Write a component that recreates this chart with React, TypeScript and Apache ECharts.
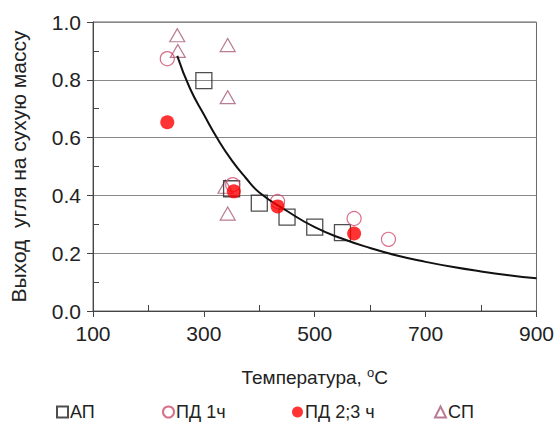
import React, { useEffect, useRef } from "react";
import * as echarts from "echarts";

const apX = [300, 350, 400, 450, 500, 550];
const apY = [0.797, 0.423, 0.373, 0.325, 0.29, 0.271];

const pd1X = [234, 352, 433, 571, 633];
const pd1Y = [0.873, 0.437, 0.379, 0.32, 0.248];

const pd23X = [234, 354, 433, 571];
const pd23Y = [0.653, 0.414, 0.362, 0.268];

const spX = [252, 253, 343, 343, 339, 343];
const spY = [0.954, 0.9, 0.92, 0.74, 0.43, 0.337];

const curveX = [252, 275, 300, 325, 350, 375, 400, 450, 500, 550, 600, 650, 700, 750, 800, 850, 900];
const curveY = [0.883, 0.77, 0.68, 0.595, 0.522, 0.462, 0.41, 0.346, 0.29, 0.25, 0.218, 0.191, 0.17, 0.152, 0.137, 0.124, 0.113];

const xTicks = [100, 300, 500, 700, 900];
const xMinor = [200, 400, 600, 800];
const yMinor = [0.1, 0.3, 0.5, 0.7, 0.9];

const legendNames = ["АП", "ПД 1ч", "ПД 2;3 ч", "СП"];
const legendLefts = [51, 157, 287, 429];

const FONT = "Liberation Sans";

const zip = (xs: number[], ys: number[]) => xs.map((x, i) => [x, ys[i]]);

export default function App() {
  const ref = useRef<HTMLDivElement>(null);
  useEffect(() => {
    if (!ref.current) return;
    const chart = echarts.init(ref.current, null, { renderer: "svg" });
    chart.setOption({
      animation: false,
      backgroundColor: "#fff",
      textStyle: { fontFamily: FONT },
      grid: {
        left: 93,
        right: 20,
        top: 22,
        bottom: 123,
        show: true,
        borderColor: "#666",
        borderWidth: 1,
      },
      legend: legendNames.map((n, i) => ({
        data: [n],
        bottom: 8,
        left: legendLefts[i],
        itemWidth: 11,
        itemHeight: 11,
        textStyle: { fontFamily: FONT, fontSize: 18, color: "#222", padding: [0, 0, 0, -3] },
      })),
      xAxis: [
        {
          type: "value",
          min: 100,
          max: 900,
          interval: 200,
          axisLine: { show: true, lineStyle: { color: "#444", width: 1 } },
          axisTick: { show: true, inside: false, length: 6, lineStyle: { color: "#444" }, customValues: xTicks },
          axisLabel: { fontFamily: FONT, fontSize: 21, color: "#222", margin: 12, customValues: xTicks },
          splitLine: { show: false },
          name: "Температура, {sup|o}C",
          nameLocation: "middle",
          nameGap: 55,
          nameTextStyle: {
            fontFamily: FONT,
            fontSize: 19,
            color: "#222",
            rich: { sup: { fontSize: 13, verticalAlign: "top", padding: [0, 0, 10, 0], fontFamily: FONT, color: "#222" } },
          },
        },
        {
          type: "value",
          min: 100,
          max: 900,
          position: "bottom",
          axisLine: { show: false },
          axisTick: { show: true, inside: true, length: 6, lineStyle: { color: "#444" }, customValues: xMinor },
          axisLabel: { show: false },
          splitLine: { show: false },
        },
      ],
      yAxis: [
        {
          type: "value",
          min: 0,
          max: 1,
          interval: 0.2,
          axisLine: { show: true, lineStyle: { color: "#444", width: 1 } },
          axisTick: { show: true, inside: false, length: 6, lineStyle: { color: "#444" } },
          axisLabel: {
            fontFamily: FONT,
            fontSize: 21,
            color: "#222",
            margin: 12,
            formatter: (v: number) => v.toFixed(1),
          },
          splitLine: { show: true, lineStyle: { color: "#888", width: 1 } },
          name: "Выход  угля на сухую массу",
          nameLocation: "middle",
          nameGap: 64,
          nameTextStyle: { fontFamily: FONT, fontSize: 21, color: "#222" },
        },
        {
          type: "value",
          min: 0,
          max: 1,
          position: "left",
          axisLine: { show: false },
          axisTick: { show: true, inside: true, length: 6, lineStyle: { color: "#444" }, customValues: yMinor },
          axisLabel: { show: false },
          splitLine: { show: false },
        },
      ],
      series: [
        {
          name: "trend",
          type: "line",
          data: zip(curveX, curveY),
          smooth: true,
          showSymbol: false,
          symbol: "none",
          lineStyle: { color: "#111", width: 2 },
          z: 3,
        },
        {
          name: "СП",
          type: "scatter",
          data: zip(spX, spY),
          symbol: "triangle",
          symbolSize: [15, 13],
          itemStyle: { color: "rgba(255,255,255,0)", borderColor: "#a85a7a", borderWidth: 1.2 },
          z: 2,
        },
        {
          name: "АП",
          type: "scatter",
          data: zip(apX, apY),
          symbol: "rect",
          symbolSize: 16,
          itemStyle: { color: "rgba(255,255,255,0)", borderColor: "#222", borderWidth: 1.3 },
          z: 2,
        },
        {
          name: "ПД 1ч",
          type: "scatter",
          data: zip(pd1X, pd1Y),
          symbol: "circle",
          symbolSize: 14,
          itemStyle: { color: "rgba(255,255,255,0)", borderColor: "#d04a6c", borderWidth: 1.2 },
          z: 2,
        },
        {
          name: "ПД 2;3 ч",
          type: "scatter",
          data: zip(pd23X, pd23Y),
          symbol: "circle",
          symbolSize: 14,
          itemStyle: { color: "#ff0000", borderColor: "#ff0000", borderWidth: 0 },
          z: 4,
        },
      ],
    });
    return () => chart.dispose();
  }, []);
  return <div ref={ref} style={{ width: 557, height: 434, position: "absolute", left: 0, top: 0 }} />;
}
